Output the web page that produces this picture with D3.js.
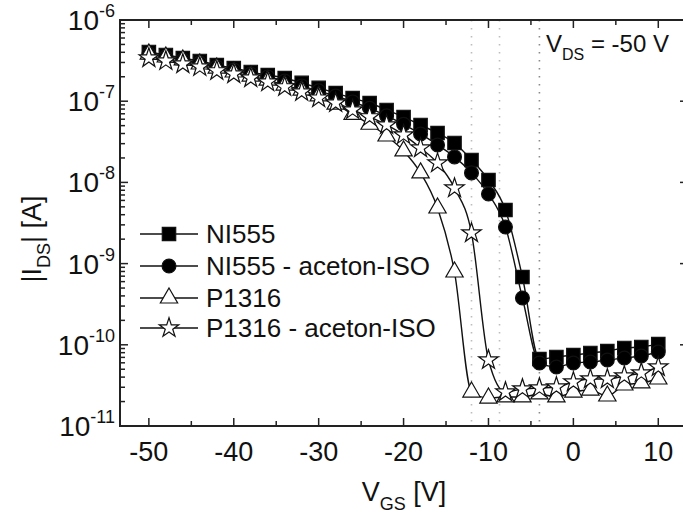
<!DOCTYPE html>
<html><head><meta charset="utf-8">
<script src="https://cdn.jsdelivr.net/npm/d3@7"></script>
<style>
body{margin:0;background:#fff}
svg{display:block}
text{font-family:"Liberation Sans",Arial,Helvetica,sans-serif;fill:#111}
</style>
</head><body>
<svg id="chart" width="683" height="519"></svg>
<script>
// ---- data ----
const vgs = [-50,-48,-46,-44,-42,-40,-38,-36,-34,-32,-30,-28,-26,-24,-22,-20,-18,-16,-14,-12,-10,-8,-6,-4,-2,0,2,4,6,8,10];
const ni555 = [4.04e-7,3.71e-7,3.40e-7,3.13e-7,2.79e-7,2.56e-7,2.29e-7,2.10e-7,1.93e-7,1.68e-7,1.46e-7,1.26e-7,1.09e-7,9.5e-8,7.8e-8,6.4e-8,5.1e-8,4.06e-8,3.06e-8,1.89e-8,1.07e-8,4.57e-9,6.84e-10,6.68e-11,7.08e-11,7.48e-11,7.93e-11,8.39e-11,9.14e-11,9.40e-11,1.02e-10];
const ni555Aceton = [3.81e-7,3.50e-7,3.22e-7,2.95e-7,2.64e-7,2.42e-7,2.16e-7,1.99e-7,1.77e-7,1.54e-7,1.34e-7,1.16e-7,9.8e-8,8.2e-8,6.6e-8,5.2e-8,3.95e-8,2.89e-8,2.06e-8,1.31e-8,7.2e-9,2.82e-9,3.77e-10,5.97e-11,5.33e-11,5.97e-11,6.14e-11,6.50e-11,6.88e-11,7.28e-11,8.15e-11];
const p1316 = [3.81e-7,3.50e-7,3.22e-7,2.87e-7,2.56e-7,2.29e-7,2.04e-7,1.82e-7,1.58e-7,1.37e-7,1.16e-7,9.2e-8,6.9e-8,5.2e-8,3.73e-8,2.44e-8,1.31e-8,4.84e-9,7.88e-10,2.62e-11,2.21e-11,2.28e-11,2.28e-11,2.48e-11,2.28e-11,2.62e-11,2.77e-11,2.34e-11,3.20e-11,3.39e-11,3.79e-11];
const p1316Aceton = [3.40e-7,3.13e-7,2.87e-7,2.64e-7,2.36e-7,2.16e-7,1.93e-7,1.72e-7,1.50e-7,1.30e-7,1.09e-7,9.5e-8,7.8e-8,6.4e-8,5.1e-8,3.84e-8,2.65e-8,1.73e-8,8.5e-9,2.38e-9,6.50e-11,2.62e-11,2.86e-11,2.94e-11,3.02e-11,3.48e-11,3.79e-11,3.79e-11,4.13e-11,4.50e-11,5.33e-11];
const seriesNames = ["NI555","NI555 - aceton-ISO","P1316","P1316 - aceton-ISO"];
const thresholdV = [-12,-8.7,-4];
const xTicks = [-50,-40,-30,-20,-10,0,10];
const yTickExps = [-6,-7,-8,-9,-10,-11];

// ---- layout ----
const svg = d3.select("#chart");
const L = 120, R = 688, T = 20, B = 426;
const x = d3.scaleLinear().domain([-53.4, 13.5]).range([L, R]);
const y = d3.scaleLog().domain([1e-11, 1e-6]).range([B, T]);

// threshold dotted lines
const thrColors = ["#bdbdbd","#bdbdbd","#8a8a8a"];
svg.selectAll("line.thr").data(thresholdV).join("line")
  .attr("x1", d => x(d)).attr("x2", d => x(d))
  .attr("y1", T).attr("y2", B)
  .attr("stroke", (d,i) => thrColors[i]).attr("stroke-width", 1.6)
  .attr("stroke-dasharray", "1.6,6.4");

// series
const styles = [
  {type: d3.symbolSquare, size: 180, fill: "#000"},
  {type: d3.symbolCircle, size: 150, fill: "#000"},
  {type: d3.symbolTriangle, size: 130, fill: "#fff"},
  {type: d3.symbolStar, size: 118, fill: "#fff"}
];
const allSeries = [ni555, ni555Aceton, p1316, p1316Aceton];
const line = d3.line().x(d => x(d[0])).y(d => y(d[1])).curve(d3.curveMonotoneX);

allSeries.forEach((vals, i) => {
  const pts = vgs.map((v, j) => [v, vals[j]]);
  svg.append("path").attr("d", line(pts)).attr("fill", "none")
    .attr("stroke", "#111").attr("stroke-width", 1.4);
});
allSeries.forEach((vals, i) => {
  const pts = vgs.map((v, j) => [v, vals[j]]);
  const st = styles[i];
  svg.append("g").selectAll("path").data(pts).join("path")
    .attr("transform", d => `translate(${x(d[0])},${y(d[1])})`)
    .attr("d", d3.symbol().type(st.type).size(st.size))
    .attr("fill", st.fill).attr("stroke", "#111").attr("stroke-width", 1.2);
});

// frame
svg.append("rect").attr("x", L).attr("y", T).attr("width", R - L).attr("height", B - T)
  .attr("fill", "none").attr("stroke", "#222").attr("stroke-width", 2);

// axes (ticks inward)
const xMinor = d3.range(-50, 11, 5);
const axisG = svg.append("g").attr("stroke", "#222").attr("stroke-width", 1.5);
xMinor.forEach(v => {
  const len = (v % 10 === 0) ? 8 : 5;
  axisG.append("line").attr("x1", x(v)).attr("x2", x(v)).attr("y1", B).attr("y2", B - len);
  axisG.append("line").attr("x1", x(v)).attr("x2", x(v)).attr("y1", T).attr("y2", T + len);
});
const yTicksAll = y.ticks();
yTicksAll.forEach(v => {
  const mant = Math.round(v / Math.pow(10, Math.floor(Math.log10(v) + 1e-9)));
  const len = (mant === 1) ? 8 : 5;
  axisG.append("line").attr("x1", L).attr("x2", L + len).attr("y1", y(v)).attr("y2", y(v));
  axisG.append("line").attr("x1", R).attr("x2", R - len).attr("y1", y(v)).attr("y2", y(v));
});

// x tick labels
svg.selectAll("text.xt").data(xTicks).join("text")
  .attr("x", d => x(d)).attr("y", 461).attr("text-anchor", "middle")
  .attr("font-size", 27).text(d => d);

// y tick labels
yTickExps.forEach(e => {
  const t = svg.append("text").attr("x", 115).attr("y", y(Math.pow(10, e)) + 10)
    .attr("text-anchor", "end").attr("font-size", 28);
  t.append("tspan").text("10");
  t.append("tspan").attr("font-size", 18).attr("dy", -13).text(String(e));
});

// axis titles
const xt = svg.append("text").attr("x", 404).attr("y", 501).attr("text-anchor", "middle").attr("font-size", 27);
xt.append("tspan").text("V");
xt.append("tspan").attr("font-size", 18).attr("dy", 9).text("GS");
xt.append("tspan").attr("dy", -9).text(" [V]");

const yt = svg.append("text").attr("transform", "translate(41,239) rotate(-90)")
  .attr("text-anchor", "middle").attr("font-size", 27);
yt.append("tspan").text("|I");
yt.append("tspan").attr("font-size", 18).attr("dy", 9).text("DS");
yt.append("tspan").attr("dy", -9).text("| [A]");

// V_DS annotation
const vt = svg.append("text").attr("x", 546).attr("y", 52).attr("font-size", 24);
vt.append("tspan").text("V");
vt.append("tspan").attr("font-size", 16).attr("dy", 8).text("DS");
vt.append("tspan").attr("dy", -8).text(" = -50 V");

// legend
const legY = [234, 266, 298, 328];
seriesNames.forEach((name, i) => {
  const g = svg.append("g");
  g.append("line").attr("x1", 140).attr("x2", 198).attr("y1", legY[i]).attr("y2", legY[i])
    .attr("stroke", "#111").attr("stroke-width", 1.4);
  g.append("path").attr("transform", `translate(169,${legY[i]})`)
    .attr("d", d3.symbol().type(styles[i].type).size(styles[i].size))
    .attr("fill", styles[i].fill).attr("stroke", "#111").attr("stroke-width", 1.2);
  g.append("text").attr("x", 206).attr("y", legY[i] + 9).attr("font-size", 26).text(name);
});
</script>
</body></html>
